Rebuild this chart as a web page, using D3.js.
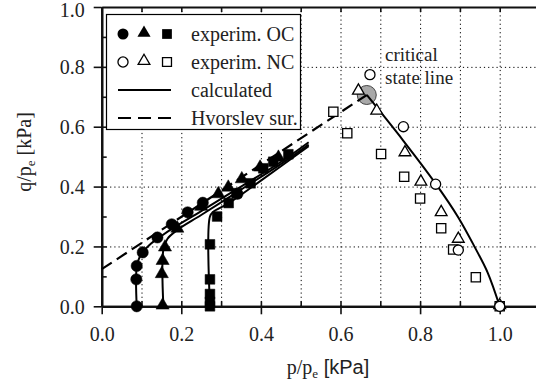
<!DOCTYPE html>
<html>
<head>
<meta charset="utf-8">
<script src="https://cdn.jsdelivr.net/npm/d3@7"></script>
<style>
  body { margin: 0; background: #fff; }
  svg { display: block; }
  .grid line { stroke: #000; stroke-width: 1; stroke-dasharray: 1.2, 3; }
  .grid .domain { display: none; }
  .axis line { stroke: #111; stroke-width: 1.6; }
  .axis .domain { stroke: #111; stroke-width: 2.2; }
</style>
</head>
<body>
<div id="chart"></div>
<script>
// experimental points, overconsolidated (filled markers)
const ocCircles = [[0.088, 0], [0.087, 0.09], [0.088, 0.135], [0.103, 0.18], [0.14, 0.23],
  [0.176, 0.274], [0.216, 0.314], [0.254, 0.346], [0.341, 0.376]];
const ocTriangles = [[0.153, 0], [0.151, 0.105], [0.153, 0.149], [0.159, 0.194], [0.19, 0.257],
  [0.25, 0.33], [0.293, 0.372], [0.318, 0.394], [0.352, 0.422], [0.398, 0.461], [0.444, 0.494]];
const ocSquares = [[0.272, 0], [0.272, 0.015], [0.272, 0.041], [0.272, 0.09], [0.272, 0.207],
  [0.29, 0.30], [0.319, 0.345], [0.339, 0.378], [0.374, 0.411], [0.406, 0.461], [0.431, 0.483], [0.469, 0.508]];

// experimental points, normally consolidated (open markers)
const ncCircles = [[0.674, 0.774], [0.758, 0.6], [0.839, 0.408], [0.896, 0.188], [1.0, 0]];
const ncTriangles = [[0.645, 0.717], [0.691, 0.65], [0.762, 0.511], [0.802, 0.413], [0.853, 0.311],
  [0.896, 0.222], [1.0, 0]];
const ncSquares = [[0.582, 0.65], [0.617, 0.578], [0.702, 0.509], [0.76, 0.433], [0.8, 0.36],
  [0.853, 0.261], [0.883, 0.19], [0.94, 0.097], [1.0, 0]];

// calculated paths
const calcOC1 = [[0.088, 0], [0.088, 0.13], [0.097, 0.17], [0.12, 0.205], [0.15, 0.235], [0.18, 0.262],
  [0.25, 0.318], [0.35, 0.4], [0.45, 0.482], [0.52, 0.548]];
const calcOC2 = [[0.155, 0], [0.155, 0.19], [0.165, 0.225], [0.19, 0.255], [0.25, 0.305], [0.35, 0.39],
  [0.45, 0.475], [0.52, 0.54]];
const calcOC3 = [[0.272, 0], [0.272, 0.3], [0.28, 0.315], [0.32, 0.345], [0.4, 0.42], [0.52, 0.535]];
const calcNC = [[0.666, 0.706], [0.758, 0.553], [0.839, 0.41], [0.896, 0.297], [0.938, 0.196],
  [0.97, 0.112], [1.0, 0]];

// Hvorslev surface and critical state point
const hvorslev = [[0, 0.124], [0.666, 0.706]];
const criticalPoint = [0.666, 0.706];

const xMajor = [0, 0.2, 0.4, 0.6, 0.8, 1.0];
const xMinor = [0.1, 0.3, 0.5, 0.7, 0.9, 1.1];
const yMajor = [0, 0.2, 0.4, 0.6, 0.8, 1.0];
const legendRows = ['experim. OC', 'experim. NC', 'calculated', 'Hvorslev sur.'];

const width = 536, height = 385;
const plotLeft = 101.7, plotTop = 7, plotBottom = 306.3, plotRight = 539.5;
const serif = '"Liberation Serif", "Times New Roman", serif';
const sans = '"Liberation Sans", Arial, sans-serif';

const svg = d3.select('#chart').append('svg')
  .attr('width', width)
  .attr('height', height);

const x = d3.scaleLinear().domain([0, 1.1]).range([plotLeft, plotRight]);
const y = d3.scaleLinear().domain([0, 1.0]).range([plotBottom, plotTop]);

// dotted grid
svg.append('g').attr('class', 'grid')
  .attr('transform', 'translate(0,' + plotBottom + ')')
  .call(d3.axisBottom(x).tickValues(d3.range(1, 11).map(d => d / 10)).tickSize(-(plotBottom - plotTop)).tickFormat(''));
svg.append('g').attr('class', 'grid')
  .attr('transform', 'translate(' + plotLeft + ',0)')
  .call(d3.axisLeft(y).tickValues([0.2, 0.4, 0.6, 0.8]).tickSize(-(plotRight - plotLeft)).tickFormat(''));

// axes
const xAxisG = svg.append('g').attr('class', 'axis')
  .attr('transform', 'translate(0,' + plotBottom + ')')
  .call(d3.axisBottom(x).tickValues(xMajor).tickSizeInner(8).tickSizeOuter(0).tickPadding(10)
    .tickFormat(d3.format('.1f')));
svg.append('g').attr('class', 'axis')
  .attr('transform', 'translate(0,' + plotBottom + ')')
  .call(d3.axisBottom(x).tickValues(xMajor.concat(xMinor)).tickSizeInner(-5).tickSizeOuter(0).tickFormat(''));
svg.append('g').attr('class', 'axis')
  .attr('transform', 'translate(0,' + plotTop + ')')
  .call(d3.axisTop(x).tickValues(xMajor.concat(xMinor)).tickSizeInner(-5).tickSizeOuter(0).tickFormat(''));
const yAxisG = svg.append('g').attr('class', 'axis')
  .attr('transform', 'translate(' + plotLeft + ',0)')
  .call(d3.axisLeft(y).tickValues(yMajor).tickSizeInner(8).tickSizeOuter(0).tickPadding(9)
    .tickFormat(d3.format('.1f')));
svg.append('g').attr('class', 'axis')
  .attr('transform', 'translate(' + plotLeft + ',0)')
  .call(d3.axisLeft(y).tickValues(d3.range(1, 10).map(d => d / 10)).tickSizeInner(-5).tickSizeOuter(0).tickFormat(''));

xAxisG.selectAll('text').attr('dy', null).attr('y', 35);
// top label sits a little lower so it stays inside the picture
yAxisG.selectAll('text').attr('dy', d => d === 1.0 ? '0.45em' : '0.35em');
svg.selectAll('.axis text')
  .style('font-family', serif).style('font-size', '20px').attr('fill', '#222');

// axis labels
const xl = svg.append('text')
  .attr('x', 328).attr('y', 374)
  .attr('text-anchor', 'middle')
  .style('font-family', serif).style('font-size', '20px').attr('fill', '#222');
xl.append('tspan').text('p/p');
xl.append('tspan').text('e').attr('dy', 4).style('font-size', '13px');
xl.append('tspan').text(' [kPa]').attr('dy', -4).style('font-family', sans);

const yl = svg.append('text')
  .attr('transform', 'translate(31,152) rotate(-90)')
  .attr('text-anchor', 'middle')
  .style('font-family', serif).style('font-size', '20px').attr('fill', '#222');
yl.append('tspan').text('q/p');
yl.append('tspan').text('e').attr('dy', 4).style('font-size', '13px');
yl.append('tspan').text(' [kPa]').attr('dy', -4);

// critical state point (drawn under the lines)
svg.append('circle')
  .attr('cx', x(criticalPoint[0])).attr('cy', y(criticalPoint[1])).attr('r', 9.5)
  .attr('fill', '#a8a8a8').attr('stroke', '#444').attr('stroke-width', 1);

// lines
const line = d3.line().x(d => x(d[0])).y(d => y(d[1]));
const smooth = d3.line().x(d => x(d[0])).y(d => y(d[1])).curve(d3.curveCatmullRom.alpha(0.5));

svg.append('path').datum(hvorslev).attr('d', line)
  .attr('fill', 'none').attr('stroke', '#000').attr('stroke-width', 2.2).attr('stroke-dasharray', '12,6');

[calcOC1, calcOC2, calcOC3, calcNC].forEach(c => {
  svg.append('path').datum(c).attr('d', smooth)
    .attr('fill', 'none').attr('stroke', '#000').attr('stroke-width', 2);
});

// markers
const sym = {
  circle: d3.symbol().type(d3.symbolCircle),
  triangle: d3.symbol().type(d3.symbolTriangle),
  square: d3.symbol().type(d3.symbolSquare)
};
function drawMarkers(data, type, size, filled) {
  svg.append('g').selectAll('path').data(data).enter().append('path')
    .attr('d', sym[type].size(size)())
    .attr('transform', d => 'translate(' + x(d[0]) + ',' + (y(d[1]) - (type === 'triangle' ? 1 : 0)) + ')')
    .attr('fill', filled ? '#000' : '#fff')
    .attr('stroke', '#000')
    .attr('stroke-width', filled ? 0.5 : 1.3);
}
drawMarkers(ncSquares, 'square', 85, false);
drawMarkers(ncTriangles, 'triangle', 60, false);
drawMarkers(ncCircles, 'circle', 80, false);
drawMarkers(ocSquares, 'square', 95, true);
drawMarkers(ocTriangles, 'triangle', 75, true);
drawMarkers(ocCircles, 'circle', 100, true);

svg.append('text').attr('x', 385).attr('y', 61)
  .style('font-family', serif).style('font-size', '19px').attr('fill', '#222').text('critical');
svg.append('text').attr('x', 385).attr('y', 84)
  .style('font-family', serif).style('font-size', '19px').attr('fill', '#222').text('state line');

// legend
const lg = svg.append('g');
lg.append('rect').attr('x', 106.5).attr('y', 14.5).attr('width', 194).attr('height', 115)
  .attr('fill', '#fff').attr('stroke', '#000').attr('stroke-width', 1.2);
const rowY = [34, 62, 90, 118];
const mx = [123, 144, 167];
['circle', 'triangle', 'square'].forEach((t, i) => {
  lg.append('path').attr('d', sym[t].size(t === 'triangle' ? 75 : 95)())
    .attr('transform', 'translate(' + mx[i] + ',' + (rowY[0] - (t === 'triangle' ? 1 : 0)) + ')')
    .attr('fill', '#000');
  lg.append('path').attr('d', sym[t].size(t === 'triangle' ? 60 : 80)())
    .attr('transform', 'translate(' + mx[i] + ',' + (rowY[1] - (t === 'triangle' ? 1 : 0)) + ')')
    .attr('fill', '#fff').attr('stroke', '#000').attr('stroke-width', 1.3);
});
lg.append('line').attr('x1', 118).attr('x2', 171).attr('y1', rowY[2]).attr('y2', rowY[2])
  .attr('stroke', '#000').attr('stroke-width', 2.2);
lg.append('line').attr('x1', 118).attr('x2', 171).attr('y1', rowY[3]).attr('y2', rowY[3])
  .attr('stroke', '#000').attr('stroke-width', 2.2).attr('stroke-dasharray', '13,7');
legendRows.forEach((t, i) => {
  lg.append('text').attr('x', 191).attr('y', rowY[i]).attr('dy', '0.33em')
    .style('font-family', serif).style('font-size', '20px').attr('fill', '#222').text(t);
});
</script>
</body>
</html>
